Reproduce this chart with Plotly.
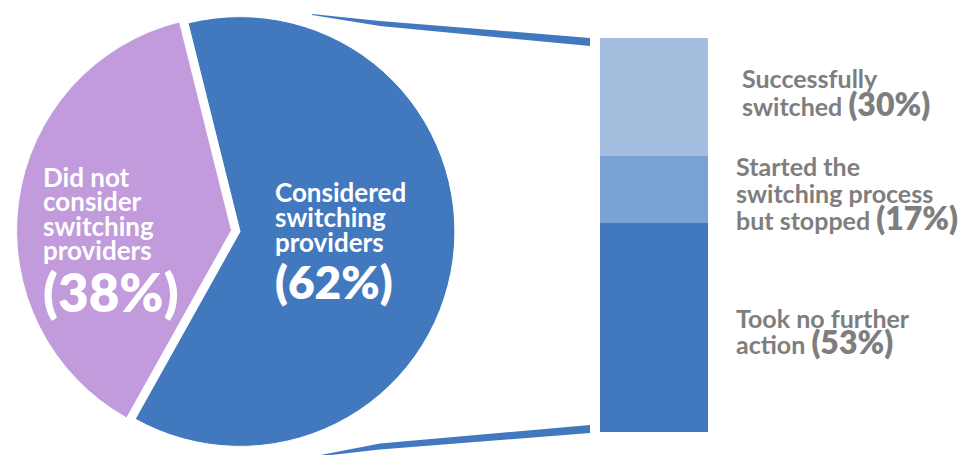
import plotly.graph_objects as go

# ---------------- data ----------------
pie_labels = ["Considered switching providers", "Did not consider switching providers"]
pie_values = [62, 38]
pie_label_lines = [["Considered", "switching", "providers"],
                   ["Did not", "consider", "switching", "providers"]]

bar_labels = ["Took no further action", "Started the switching process but stopped",
              "Successfully switched"]
bar_values = [53, 17, 30]
bar_label_lines = [["Took no further", "action"],
                   ["Started the", "switching process", "but stopped"],
                   ["Successfully", "switched"]]

# ---------------- style / layout constants ----------------
WIN_W, WIN_H = 969, 455
OFF = 8                      # default page body margin
FW, FH = WIN_W - OFF, WIN_H - OFF
FONT = "Lato"
pie_colors = ["#4279BE", "#C19BDB"]
bar_colors = ["#4279BE", "#7BA2D4", "#A3BEDE"]
grey = "#7E7E7E"

pie_center_x = 240
bar_px_x = (600, 708)
bar_px_y = (38, 432)   # top, bottom (window pixels)

# pie label placement (x, first baseline, spacing, body size, pct baseline, pct size)
pie_text_pos = [(275, 202, 25, 26, 299, 46), (43, 187, 24.5, 26, 312, 53)]
# bar label placement (x, first baseline, spacing)
bar_text_pos = [(736, 328, 26), (736, 176, 27), (742, 88, 28)]
BAR_TXT, BAR_PCT = 25, 32


def px_x(x):
    return (x - OFF) / FW


def px_y(y):
    return 1 - (y - OFF) / FH


fig = go.Figure()

fig.add_trace(go.Pie(
    labels=pie_labels, values=pie_values, sort=False,
    direction="clockwise", rotation=-14,
    pull=[0, 0.04],
    marker=dict(colors=pie_colors, line=dict(color="white", width=1)),
    textinfo="none", hoverinfo="label+percent",
    domain=dict(x=[0, 2 * px_x(pie_center_x)], y=[0, 1]), showlegend=False,
))

for lab, val, col in zip(bar_labels, bar_values, bar_colors):
    fig.add_trace(go.Bar(
        x=["Considered switching providers"], y=[val], name=lab,
        marker=dict(color=col, line=dict(width=0)),
        xaxis="x2", yaxis="y2", showlegend=False,
        hovertemplate=lab + ": %{y}%<extra></extra>",
    ))

# connectors (tapered), attached to the bar's top and bottom
bar_top, bar_bot = bar_px_y
end_x = bar_px_x[0] - 10
connectors = [
    [(312, 14.5, 1), (380, 23.5, 5), (end_x, bar_top + 4, 8)],
    [(318, 456, 1), (380, 446.5, 6), (end_x, bar_bot - 3, 8)],
]
for pts in connectors:
    xs = [p[0] for p in pts] + [p[0] for p in reversed(pts)]
    ys = [p[1] - p[2] / 2 for p in pts] + [p[1] + p[2] / 2 for p in reversed(pts)]
    fig.add_trace(go.Scatter(x=xs, y=ys, mode="lines", fill="toself",
                             fillcolor="#4279BE", line=dict(width=0, color="#4279BE"),
                             xaxis="x3", yaxis="y3", showlegend=False, hoverinfo="skip"))

annotations = []


def add_line(text, x_px, baseline_px, maxsize, size, color, weight):
    yc = baseline_px - 0.387 * maxsize
    annotations.append(dict(
        text=text, x=px_x(x_px - 1), y=px_y(yc), xref="paper", yref="paper",
        xanchor="left", yanchor="middle", showarrow=False, align="left",
        font=dict(family=FONT, size=size, color=color, weight=weight),
        borderpad=0,
    ))


for lines, val, (x0, b0, sp, fs, pb, ps) in zip(pie_label_lines, pie_values, pie_text_pos):
    for i, ln in enumerate(lines):
        add_line(ln, x0, b0 + i * sp, fs, fs, "white", 700)
    add_line(f"({val}%)", x0, pb, ps, ps, "white", 800)

for lines, val, (x0, b0, sp) in zip(bar_label_lines, bar_values, bar_text_pos):
    for i, ln in enumerate(lines):
        if i == len(lines) - 1:
            txt = (ln + f" <span style='font-size:{BAR_PCT}px;font-weight:800'>({val}%)</span>")
            add_line(txt, x0, b0 + i * sp, BAR_PCT, BAR_TXT, grey, 700)
        else:
            add_line(ln, x0, b0 + i * sp, BAR_TXT, BAR_TXT, grey, 700)

fig.update_layout(
    width=FW, height=FH,
    margin=dict(l=0, r=0, t=0, b=0),
    paper_bgcolor="white", plot_bgcolor="rgba(0,0,0,0)",
    barmode="stack", bargap=0,
    xaxis2=dict(domain=[px_x(bar_px_x[0]), px_x(bar_px_x[1])], anchor="y2", visible=False),
    yaxis2=dict(domain=[px_y(bar_px_y[1]), px_y(bar_px_y[0])], anchor="x2",
                range=[0, 100], visible=False),
    xaxis3=dict(domain=[0, 1], anchor="y3", range=[OFF, OFF + FW], visible=False),
    yaxis3=dict(domain=[0, 1], anchor="x3", range=[OFF + FH, OFF], visible=False),
    annotations=annotations,
    font=dict(family=FONT),
)

fig.write_html("out.html")
